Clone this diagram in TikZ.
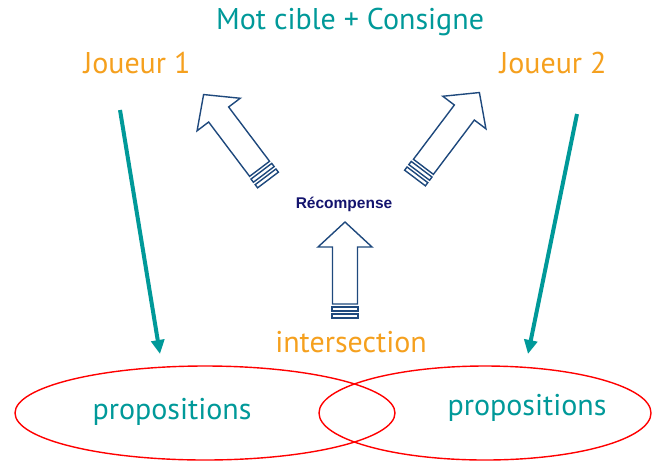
\documentclass[tikz,border=0pt]{standalone}
\usepackage{fontspec}
\setmainfont{PT Sans}
\newfontfamily\arialfont{Liberation Sans}
\usetikzlibrary{arrows.meta}
\definecolor{tealtxt}{RGB}{0,153,153}
\definecolor{orangetxt}{RGB}{245,160,30}
\definecolor{navyline}{RGB}{31,73,125}
\definecolor{navytxt}{RGB}{20,20,110}
\newcommand*{\BlockArrow}[3]{%
  \begin{scope}[shift={#1}, rotate=#2, navyline, line width=1.4pt, line join=miter]
    \draw (0,-13) rectangle (4,13);
    \draw (7,-13) rectangle (11,13);
    \draw (14,-12.5) -- (#3-25,-12.5) -- (#3-25,-27) -- (#3,0) -- (#3-25,27) -- (#3-25,12.5) -- (14,12.5) -- cycle;
  \end{scope}}

\begin{document}
\begin{tikzpicture}[x=1pt, y=-1pt,
    teal label/.style={text=tealtxt, font=\fontsize{30}{32}\selectfont},
    orange label/.style={text=orangetxt, font=\fontsize{30}{32}\selectfont},
    player arrow/.style={draw=tealtxt, line width=4pt, -{Triangle[length=14pt,width=13pt]}},
    set/.style={draw=red, line width=1.4pt}]
  \useasboundingbox (0,0) rectangle (652,461);
  \draw[set] (205,413) ellipse [x radius=190, y radius=47];
  \draw[set] (485,413) ellipse [x radius=166, y radius=47];
  \node[teal label] (goal) at (350,22) {Mot cible + Consigne};
  \node[orange label] (p1) at (137,63) {Joueur 1};
  \node[orange label] (p2) at (553,63) {Joueur 2};
  \node[orange label] (inter) at (351,342) {intersection};
  \node[teal label] (prop1) at (172,412) {propositions};
  \node[teal label] (prop2) at (527,408) {propositions};
  \node[text=navytxt, font=\arialfont\bfseries\fontsize{15.5}{17}\selectfont] (reward) at (344,204) {Récompense};
  \coordinate (p1 out) at (120,110);
  \coordinate (p1 in) at (160,354);
  \coordinate (p2 out) at (577,114);
  \coordinate (p2 in) at (528,354);
  \draw[player arrow] (p1 out) -- (p1 in);
  \draw[player arrow] (p2 out) -- (p2 in);
  \BlockArrow{(268,180)}{127}{107}
  \BlockArrow{(415,178)}{53}{107}
  \BlockArrow{(345,318)}{90}{96}
\end{tikzpicture}
\end{document}
